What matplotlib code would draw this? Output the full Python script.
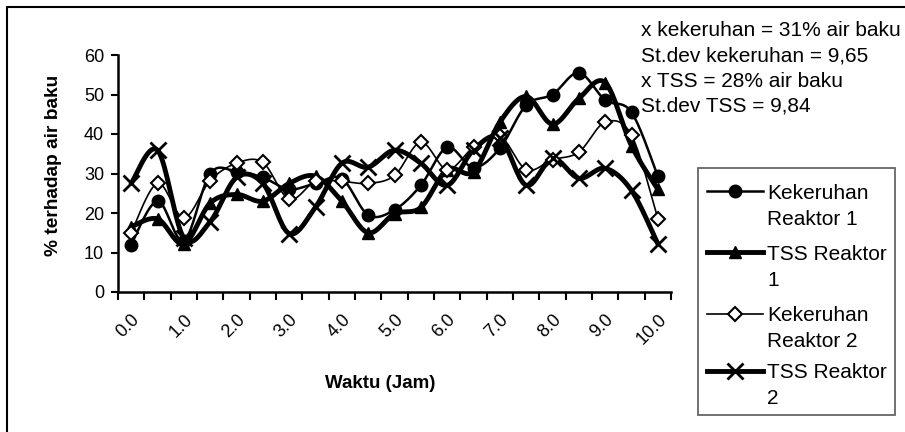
import numpy as np
import matplotlib
matplotlib.use("Agg")
import matplotlib.pyplot as plt
from matplotlib.patches import Rectangle
from matplotlib.lines import Line2D

plt.rcParams['font.family'] = ['Liberation Sans', 'DejaVu Sans']

waktu = [f"{h:.1f}" for h in np.arange(0, 10.01, 0.5)]
kek_r1 = [12, 23, 13, 30, 30.5, 29, 26, 27.5, 28.7, 19.5, 20.8, 27, 36.6, 31.5, 36.4, 47.3, 50, 55.5, 48.6, 45.5, 29.3]
tss_r1 = [16.5, 18.5, 12.2, 22.5, 24.7, 23, 27.5, 29.3, 23, 15, 19.8, 21.4, 31, 30.5, 43, 49.5, 42.5, 49, 53, 37, 26]
kek_r2 = [15, 27.5, 18.8, 28.2, 32.6, 32.8, 23.5, 28, 28, 27.5, 29.5, 37.9, 31, 36.6, 39.5, 31, 33.5, 35.4, 43, 39.7, 18.6]
tss_r2 = [27.5, 35.9, 13.7, 17.8, 29, 27.5, 14.8, 21.5, 32.6, 31.6, 35.9, 32.6, 27, 36, 39, 27, 33.8, 28.8, 31.3, 25.7, 12.2]

labels = ["Kekeruhan\nReaktor 1", "TSS Reaktor\n1", "Kekeruhan\nReaktor 2", "TSS Reaktor\n2"]
notes = ["x kekeruhan = 31% air baku", "St.dev kekeruhan = 9,65", "x TSS = 28% air baku", "St.dev TSS = 9,84"]

styles = [
    dict(marker='o', ms=9, mfc='black', mec='black', lw=1.8),
    dict(marker='^', ms=9, mfc='black', mec='black', lw=3.5),
    dict(marker='D', ms=7, mfc='white', mec='black', mew=1.5, lw=1.2),
    dict(marker='x', ms=12, mec='black', mew=2, lw=3.5),
]
series = list(zip(labels, [kek_r1, tss_r1, kek_r2, tss_r2], styles))

W, H = 905, 432


def px(x, y):
    return x / W, 1 - y / H


def smooth(x, y, n=20):
    # Excel-style smoothed line: cubic Bezier with Catmull-Rom control points
    x = np.asarray(x, float); y = np.asarray(y, float)
    P = np.column_stack([x, y])
    out = []
    t = np.linspace(0, 1, n)[:, None]
    for i in range(len(P) - 1):
        p0 = P[i - 1] if i > 0 else P[i]
        p1, p2 = P[i], P[i + 1]
        p3 = P[i + 2] if i + 2 < len(P) else P[i + 1]
        c1 = p1 + (p2 - p0) / 6
        c2 = p2 - (p3 - p1) / 6
        seg = ((1 - t) ** 3) * p1 + 3 * ((1 - t) ** 2) * t * c1 + 3 * (1 - t) * t ** 2 * c2 + t ** 3 * p2
        out.append(seg if i == 0 else seg[1:])
    S = np.vstack(out)
    return S[:, 0], S[:, 1]


fig = plt.figure(figsize=(W / 100, H / 100), dpi=100)
ax = fig.add_axes([118 / W, 1 - 292 / H, 553 / W, 237 / H])

xs = np.arange(len(waktu))
for label, vals, st in series:
    sx, sy = smooth(xs, vals)
    ax.plot(sx, sy, color='black', lw=st['lw'], solid_capstyle='round', zorder=2)
    kw = {k: v for k, v in st.items() if k != 'lw'}
    ax.plot(xs, vals, ls='none', color='black', zorder=3, **kw)

ax.set_xlim(-0.5, len(waktu) - 0.5)
ax.set_ylim(0, 60)
ax.set_yticks(range(0, 61, 10))
ax.set_xticks(np.arange(-0.5, len(waktu) + 0.5, 1), minor=False)
ax.set_xticklabels([])
ax.set_xticks(xs[::2], minor=True)
ax.set_xticklabels([waktu[i] for i in xs[::2]], minor=True, rotation=45, ha='right', va='top',
                   rotation_mode='anchor', fontsize=13)
ax.tick_params(axis='x', which='minor', length=0, pad=14)
ax.tick_params(axis='x', which='major', length=6, width=1.5, direction='out')
ax.tick_params(axis='y', length=5, width=1.5, direction='out', labelsize=13, pad=5)
for s in ['top', 'right']:
    ax.spines[s].set_visible(False)
for s in ['left', 'bottom']:
    ax.spines[s].set_linewidth(1.8)

ax.set_ylabel('% terhadap air baku', fontsize=13.8, fontweight='bold')
ax.yaxis.set_label_coords(62 / W, 1 - 165 / H, transform=fig.transFigure)
fig.text(*px(380, 383), 'Waktu (Jam)', fontsize=13.5, fontweight='bold', ha='center', va='center')

for i, line in enumerate(notes):
    fig.text(*px(641, 36 + 25.3 * i), line, fontsize=15, ha='left', va='baseline')

# legend (first text line aligned with its marker, as in the reference)
fig.patches.append(Rectangle(px(698, 415), 197 / W, 247 / H, transform=fig.transFigure,
                             fill=False, edgecolor='#666666', lw=1.3))
base = [199, 260, 321, 378]
for (label, vals, st), b in zip(series, base):
    yh = b - 7.5
    kw = {k: v for k, v in st.items() if k != 'lw'}
    x0, y0 = px(707, yh)
    x1, _ = px(763, yh)
    fig.add_artist(Line2D([x0, x1], [y0, y0], color='black', lw=st['lw'], transform=fig.transFigure))
    fig.add_artist(Line2D([(x0 + x1) / 2], [y0], ls='none', color='black', transform=fig.transFigure, **kw))
    l1, l2 = label.split("\n")
    fig.text(*px(767, b), l1, fontsize=15, ha='left', va='baseline')
    fig.text(*px(767, b + 26), l2, fontsize=15, ha='left', va='baseline')

# outer chart border (right and bottom edges fall outside the image)
fig.patches.append(Rectangle(px(7, 445), 910 / W, 438 / H, transform=fig.transFigure,
                             fill=False, edgecolor='black', lw=1.5, clip_on=False))

fig.savefig('out.png', dpi=100)
